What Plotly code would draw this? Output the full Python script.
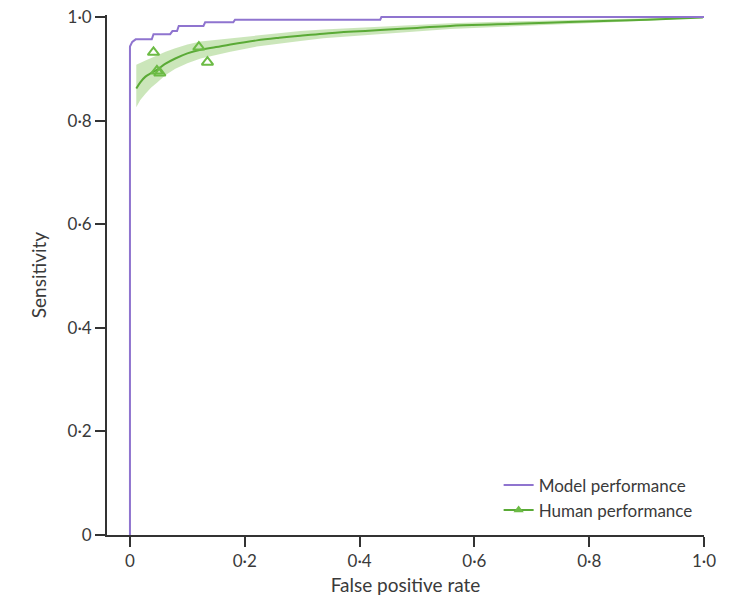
import plotly.graph_objects as go

# Model ROC (step curve)
model_fpr = [0, 0, 0.004, 0.010, 0.038, 0.041, 0.070, 0.074, 0.082, 0.085, 0.128, 0.131, 0.180, 0.183, 0.436, 0.438, 1.0]
model_sens = [0, 0.943, 0.952, 0.957, 0.957, 0.967, 0.967, 0.973, 0.973, 0.983, 0.983, 0.990, 0.990, 0.995, 0.995, 1.0, 1.0]

# Human SROC fitted curve with confidence band
human_fpr = [0.011, 0.018, 0.027, 0.037, 0.047, 0.062, 0.079, 0.100, 0.123, 0.150, 0.175, 0.221, 0.260, 0.297, 0.337, 0.390, 0.436, 0.500, 0.558, 0.640, 0.727, 0.810, 0.901, 0.998]
human_sens = [0.862, 0.874, 0.885, 0.892, 0.898, 0.910, 0.920, 0.930, 0.937, 0.942, 0.947, 0.955, 0.960, 0.964, 0.968, 0.972, 0.975, 0.979, 0.983, 0.986, 0.989, 0.992, 0.995, 0.999]
human_lo = [0.826, 0.840, 0.852, 0.864, 0.873, 0.888, 0.900, 0.911, 0.920, 0.927, 0.933, 0.943, 0.949, 0.954, 0.959, 0.963, 0.967, 0.972, 0.977, 0.981, 0.985, 0.989, 0.993, 0.999]
human_hi = [0.908, 0.912, 0.916, 0.921, 0.926, 0.933, 0.940, 0.947, 0.953, 0.956, 0.959, 0.965, 0.969, 0.973, 0.976, 0.979, 0.982, 0.985, 0.988, 0.991, 0.993, 0.995, 0.997, 1.0]

# Individual human reader points
reader_fpr = [0.041, 0.047, 0.052, 0.120, 0.135]
reader_sens = [0.932, 0.896, 0.892, 0.942, 0.913]

x_ticks = [0, 0.2, 0.4, 0.6, 0.8, 1.0]
x_labels = ["0", "0·2", "0·4", "0·6", "0·8", "1·0"]
y_ticks = [0, 0.2, 0.4, 0.6, 0.8, 1.0]
y_labels = ["0", "0·2", "0·4", "0·6", "0·8", "1·0"]

purple = "#8f74cf"
green = "#5aaa36"
green_pt = "#6cbb45"
band = "rgba(130,195,90,0.42)"

fig = go.Figure()

fig.add_trace(go.Scatter(x=human_fpr, y=human_lo, mode="lines", line=dict(width=0, color=band),
                         showlegend=False, hoverinfo="skip"))
fig.add_trace(go.Scatter(x=human_fpr, y=human_hi, mode="lines", line=dict(width=0, color=band),
                         fill="tonexty", fillcolor=band, showlegend=False, hoverinfo="skip"))
fig.add_trace(go.Scatter(x=human_fpr, y=human_sens, mode="lines", line=dict(color=green, width=2, shape="spline"),
                         showlegend=False))
fig.add_trace(go.Scatter(x=reader_fpr, y=reader_sens, mode="markers",
                         marker=dict(symbol="triangle-up-open", size=10, color=green_pt, line=dict(width=2, color=green_pt)),
                         showlegend=False))
fig.add_trace(go.Scatter(x=model_fpr, y=model_sens, mode="lines", name="Model performance",
                         line=dict(color=purple, width=2)))
fig.add_trace(go.Scatter(x=[None], y=[None], mode="lines+markers", name="Human performance",
                         line=dict(color=green, width=2),
                         marker=dict(symbol="triangle-up", size=9, color=green_pt)))

font_family = "Lato, 'Open Sans', sans-serif"
fig.update_layout(
    width=730, height=605,
    margin=dict(l=107, r=26, t=15, b=70),
    paper_bgcolor="white", plot_bgcolor="white",
    font=dict(family=font_family, size=16, color="#3a3a3a"),
    legend=dict(x=0.656, y=0.13, xanchor="left", yanchor="top", bgcolor="rgba(0,0,0,0)",
                traceorder="normal",
                font=dict(size=17, color="#3a3a3a"), tracegroupgap=0, itemwidth=30),
    xaxis=dict(range=[-0.04, 1.0], tickvals=x_ticks, ticktext=x_labels, showgrid=False, zeroline=False,
               showline=True, linecolor="#333", linewidth=1.8, ticks="outside", ticklen=10, tickwidth=1.8,
               tickcolor="#333", automargin=False, tickfont=dict(size=17),
               title=dict(text="False positive rate", standoff=8)),
    yaxis=dict(range=[0, 1.004], tickvals=y_ticks, ticktext=y_labels, showgrid=False, zeroline=False,
               showline=True, linecolor="#333", linewidth=1.8, ticks="outside", ticklen=10, tickwidth=1.8,
               tickcolor="#333", automargin=False, tickfont=dict(size=17),
               title=dict(text="Sensitivity", standoff=16)),
)

fig.write_html("out.html", config={"displayModeBar": False},
               post_script="document.body.style.margin='0';")
